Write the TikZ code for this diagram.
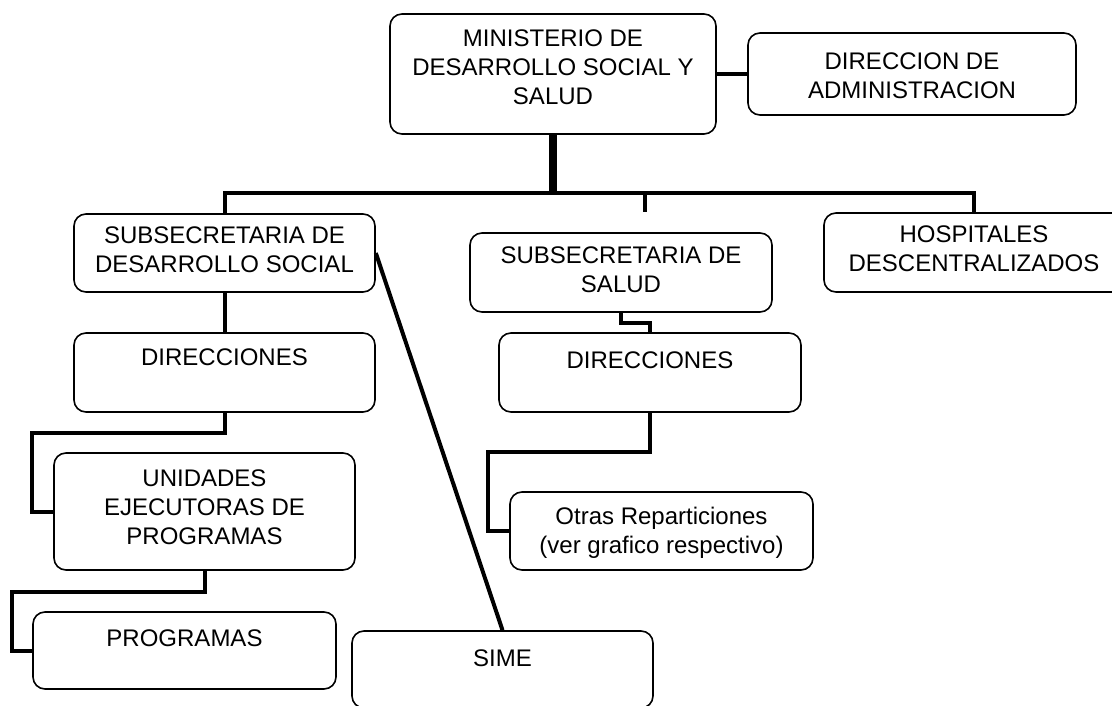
\documentclass[tikz,border=0pt]{standalone}
\usepackage{fontspec}
\setmainfont{Liberation Sans}
\begin{document}
\begin{tikzpicture}[x=1pt,y=-1pt,
  box/.style={draw, line width=1.6pt, rounded corners=12pt, inner sep=0pt},
  lbl/.style={anchor=center, align=center, font=\fontsize{24}{29}\selectfont},
  link/.style={line width=4pt},
  trunk/.style={line width=8pt}]
\fill[white] (0,0) rectangle (1112,706);
\useasboundingbox (0,0) rectangle (1112,706);

% boxes
\node[box, minimum width=326pt, minimum height=120pt,
  label={[lbl, yshift=7pt]center:MINISTERIO DE\\DESARROLLO SOCIAL Y\\SALUD}] (min) at (553,74) {};
\node[box, minimum width=328pt, minimum height=82pt,
  label={[lbl, yshift=-2pt]center:DIRECCION DE\\ADMINISTRACION}] (adm) at (912,74) {};
\node[box, minimum width=301pt, minimum height=78pt,
  label={[lbl, yshift=3.5pt]center:SUBSECRETARIA DE\\DESARROLLO SOCIAL}] (subds) at (224.5,253) {};
\node[box, minimum width=301pt, minimum height=79pt,
  label={[lbl, yshift=15.5pt]center:DIRECCIONES}] (dirL) at (224.5,372.5) {};
\node[box, minimum width=301pt, minimum height=117pt,
  label={[lbl, yshift=4.5pt]center:UNIDADES\\EJECUTORAS DE\\PROGRAMAS}] (unid) at (204.5,511.5) {};
\node[box, minimum width=303pt, minimum height=77pt,
  label={[lbl, yshift=12.5pt]center:PROGRAMAS}] (prog) at (184.5,650.5) {};
\node[box, minimum width=301pt, minimum height=77pt,
  label={[lbl, yshift=11.5pt]center:SIME}] (sime) at (502.5,669.5) {};
\node[box, minimum width=302pt, minimum height=79pt,
  label={[lbl, yshift=2.5pt]center:SUBSECRETARIA DE\\SALUD}] (subsal) at (621,272.5) {};
\node[box, minimum width=302pt, minimum height=79pt,
  label={[lbl, yshift=12.5pt]center:DIRECCIONES}] (dirM) at (650,372.5) {};
\node[box, minimum width=303pt, minimum height=78pt,
  label={[lbl, yshift=-2pt]center:Otras Reparticiones\\(ver grafico respectivo)}] (otras) at (661.5,531) {};
\node[box, minimum width=300pt, minimum height=79pt,
  label={[lbl, yshift=3.5pt]center:HOSPITALES\\DESCENTRALIZADOS}] (hosp) at (974,252.5) {};

% bus and loose tick
\coordinate (bus) at (553,193);
\coordinate (tick) at (645,212);

% connectors
\draw[link] (min.east) -- (adm.west);
\draw[trunk] (min.south) -- (bus);
\draw[link] (subds.north) |- (hosp.north |- bus) -- (hosp.north);
\draw[link] (tick |- bus) -- (tick);
\draw[link] (subds.south) -- (dirL.north);
\draw[link] (subds.east) -- (sime.north);
\draw[link] (dirL.south) -- ++(0,20) -| ([xshift=-21pt]unid.west) -- (unid.west);
\draw[link] (unid.south) -- ++(0,21) -| ([xshift=-20pt]prog.west) -- (prog.west);
\draw[link] (subsal.south) -- ++(0,10) -| (dirM.north);
\draw[link] (dirM.south) -- ++(0,39) -| ([xshift=-21pt]otras.west) -- (otras.west);
\end{tikzpicture}
\end{document}
